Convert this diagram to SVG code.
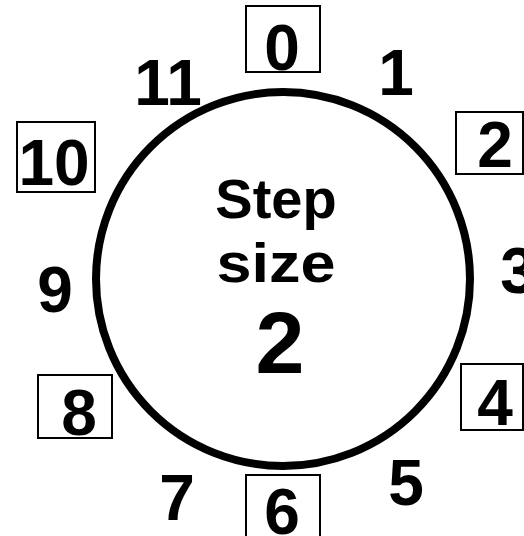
<svg xmlns="http://www.w3.org/2000/svg" width="524" height="536" viewBox="0 0 524 536">
<style>
.n{font-family:"Liberation Sans",Arial,sans-serif;font-weight:bold;font-size:64px;fill:#000;text-anchor:middle}
.c{font-family:"Liberation Sans",Arial,sans-serif;font-weight:bold;fill:#000;text-anchor:middle}
.b{fill:#fff;stroke:#000;stroke-width:2}
</style>
<rect width="524" height="536" fill="#fff"/>
<g id="dial">
<circle cx="283" cy="279" r="187" fill="none" stroke="#000" stroke-width="8"/>
<text class="c" x="276" y="218" font-size="56">Step</text>
<text class="c" x="276" y="282" font-size="56" textLength="119" lengthAdjust="spacingAndGlyphs">size</text>
<text class="c" x="280" y="373" font-size="88">2</text>
</g>
<g id="n0"><rect class="b" x="246" y="6" width="74" height="66"/><text class="n" x="282" y="70">0</text></g>
<g id="n1"><text class="n" x="396" y="95">1</text></g>
<g id="n2"><rect class="b" x="456" y="112" width="67" height="62"/><text class="n" x="495" y="167" font-size="60">2</text></g>
<g id="n3"><text class="n" x="518" y="293">3</text></g>
<g id="n4"><rect class="b" x="461" y="364" width="62" height="66"/><text class="n" x="495" y="425" font-size="62">4</text></g>
<g id="n5"><text class="n" x="406" y="505">5</text></g>
<g id="n6"><rect class="b" x="246" y="475" width="74" height="64"/><text class="n" x="282" y="534">6</text></g>
<g id="n7"><text class="n" x="177" y="520">7</text></g>
<g id="n8"><rect class="b" x="38" y="375" width="74" height="63"/><text class="n" x="79" y="435" font-size="60">8</text></g>
<g id="n9"><text class="n" x="55" y="312">9</text></g>
<g id="n10"><rect class="b" x="17" y="122" width="78" height="70"/><text class="n" x="54" y="185">10</text></g>
<g id="n11"><text class="n" x="168" y="105">11</text></g>
</svg>
